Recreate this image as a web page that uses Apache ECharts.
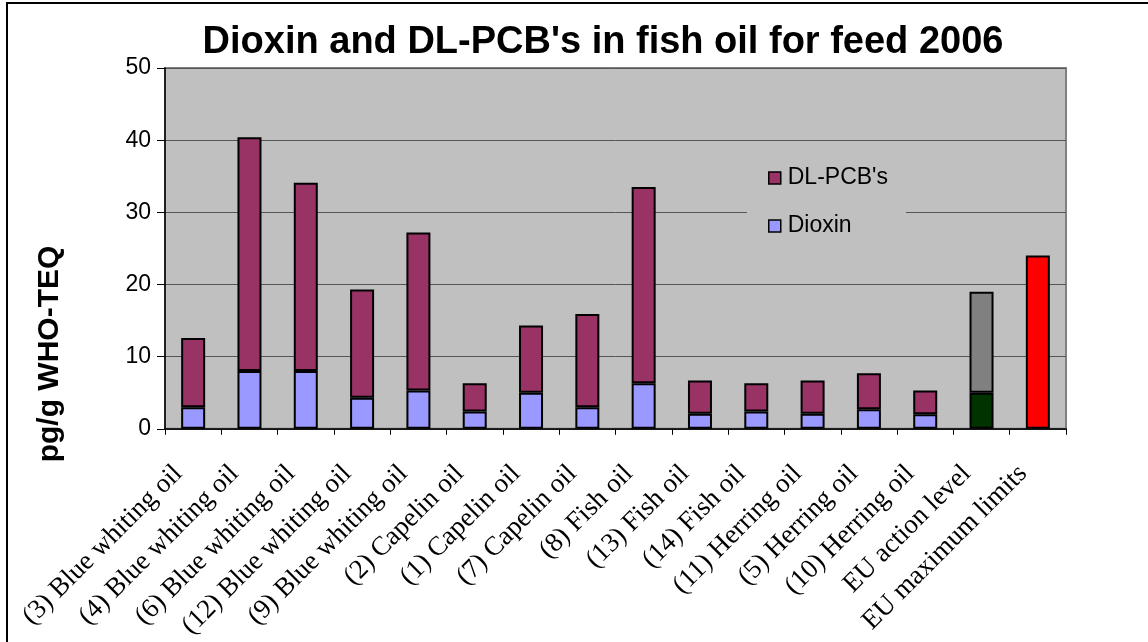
<!DOCTYPE html>
<html>
<head>
<meta charset="utf-8">
<title>Dioxin and DL-PCB's in fish oil for feed 2006</title>
<script src="https://cdn.jsdelivr.net/npm/echarts@6/dist/echarts.min.js"></script>
<style>
  html, body { margin: 0; padding: 0; background: #ffffff; }
  #chart { width: 1148px; height: 642px; }
</style>
</head>
<body>
<div id="chart"></div>
<script>
// Samples of fish oil for feed, plus the EU reference levels (pg/g WHO-TEQ)
const categories = [
  '(3) Blue whiting oil', '(4) Blue whiting oil', '(6) Blue whiting oil',
  '(12) Blue whiting oil', '(9) Blue whiting oil', '(2) Capelin oil',
  '(1) Capelin oil', '(7) Capelin oil', '(8) Fish oil', '(13) Fish oil',
  '(14) Fish oil', '(11) Herring oil', '(5) Herring oil', '(10) Herring oil',
  'EU action level', 'EU maximum limits'
];
const dioxin = [3.0, 8.0, 8.0, 4.3, 5.3, 2.4, 5.0, 3.0, 6.3, 2.1, 2.4, 2.1, 2.7, 2.0, 5.0, null];
const dlPcb  = [9.6, 32.4, 26.1, 15.0, 21.9, 3.9, 9.3, 12.9, 27.2, 4.6, 3.9, 4.6, 5.0, 3.3, 14.0, null];
const euMaximum = [null, null, null, null, null, null, null, null, null, null, null, null, null, null, null, 24];
const yTicks = [0, 10, 20, 30, 40, 50];

const ACTION_INDEX = categories.indexOf('EU action level');

const COLORS = {
  dioxin: '#9999FF',
  pcb: '#993366',
  actionDioxin: '#003300',
  actionPcb: '#808080',
  maximum: '#FF0000'
};

function seriesData(values, actionColor) {
  return values.map((v, i) => {
    if (i === ACTION_INDEX && v != null) {
      return { value: v, itemStyle: { color: actionColor } };
    }
    return v == null ? '-' : v;
  });
}

const barBase = {
  type: 'bar',
  stack: 'teq',
  barWidth: 24,
  itemStyle: { borderColor: '#000000', borderWidth: 2 },
  emphasis: { disabled: true }
};

const chart = echarts.init(document.getElementById('chart'), null, { renderer: 'canvas' });

chart.setOption({
  animation: false,
  backgroundColor: '#ffffff',
  textStyle: { fontFamily: 'Liberation Sans, Arial, sans-serif' },
  title: {
    text: "Dioxin and DL-PCB's in fish oil for feed 2006",
    left: 598,
    top: 19,
    textAlign: 'center',
    textStyle: {
      fontFamily: 'Liberation Sans, Arial, sans-serif',
      fontSize: 38,
      fontWeight: 'bold',
      color: '#000000'
    }
  },
  legend: {
    data: ["DL-PCB's", 'Dioxin'],
    orient: 'vertical',
    left: 747,
    top: 152,
    padding: [14, 18, 14, 21],
    backgroundColor: '#C0C0C0',
    itemWidth: 12,
    itemHeight: 12,
    itemGap: 24,
    icon: 'rect',
    itemStyle: { borderColor: '#000000', borderWidth: 1.5 },
    textStyle: {
      fontFamily: 'Liberation Sans, Arial, sans-serif',
      fontSize: 23,
      lineHeight: 24,
      color: '#000000',
      padding: [0, 0, 0, 2]
    },
    selectedMode: false
  },
  grid: {
    left: 165,
    right: 82,
    top: 68,
    bottom: 212,
    show: true,
    backgroundColor: '#C0C0C0',
    borderColor: '#808080',
    borderWidth: 2
  },
  xAxis: {
    type: 'category',
    data: categories,
    boundaryGap: true,
    axisLine: { lineStyle: { color: '#000000', width: 1.5 } },
    axisTick: { show: true, length: 6, lineStyle: { color: '#000000' } },
    axisLabel: {
      interval: 0,
      rotate: 45,
      margin: 26,
      padding: [0, 21, 0, 0],
      fontFamily: 'Liberation Serif, Times New Roman, serif',
      fontSize: 27,
      color: '#000000'
    }
  },
  yAxis: {
    type: 'value',
    min: yTicks[0],
    max: yTicks[yTicks.length - 1],
    interval: yTicks[1] - yTicks[0],
    axisLine: { show: true, lineStyle: { color: '#000000', width: 1.5 } },
    axisTick: { show: true, length: 8, lineStyle: { color: '#000000' } },
    axisLabel: {
      margin: 14,
      fontFamily: 'Liberation Sans, Arial, sans-serif',
      fontSize: 23,
      color: '#000000'
    },
    splitLine: { lineStyle: { color: '#555555', width: 1 } }
  },
  series: [
    Object.assign({}, barBase, {
      name: 'Dioxin',
      color: COLORS.dioxin,
      itemStyle: Object.assign({}, barBase.itemStyle, { color: COLORS.dioxin }),
      data: seriesData(dioxin, COLORS.actionDioxin)
    }),
    Object.assign({}, barBase, {
      name: "DL-PCB's",
      color: COLORS.pcb,
      itemStyle: Object.assign({}, barBase.itemStyle, { color: COLORS.pcb }),
      data: seriesData(dlPcb, COLORS.actionPcb)
    }),
    Object.assign({}, barBase, {
      name: 'EU maximum limits',
      color: COLORS.maximum,
      itemStyle: Object.assign({}, barBase.itemStyle, { color: COLORS.maximum }),
      data: euMaximum.map(v => (v == null ? '-' : v))
    })
  ],
  graphic: [
    {
      type: 'text',
      x: 50,
      y: 354,
      rotation: Math.PI / 2,
      style: {
        text: 'pg/g WHO-TEQ',
        fontFamily: 'Liberation Sans, Arial, sans-serif',
        fontSize: 30,
        fontWeight: 'bold',
        fill: '#000000',
        align: 'center',
        verticalAlign: 'middle'
      }
    },
    {
      type: 'polyline',
      shape: { points: [[7, 642], [7, 3], [1148, 3]] },
      style: { stroke: '#000000', lineWidth: 2, fill: null },
      silent: true
    }
  ]
});
</script>
</body>
</html>
